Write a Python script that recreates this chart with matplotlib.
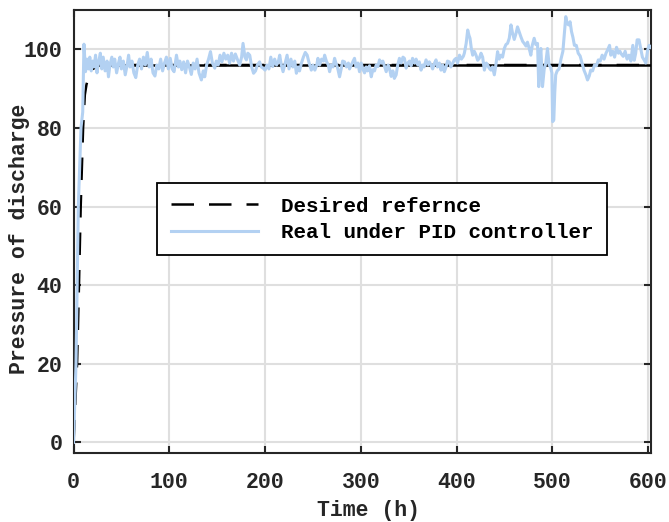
import numpy as np
import matplotlib.pyplot as plt

plt.rcParams['font.family'] = ['Liberation Mono', 'DejaVu Sans Mono']
plt.rcParams['font.weight'] = 'bold'
plt.rcParams['axes.labelweight'] = 'bold'

# desired set-point trajectory (h, pressure)
ref_t = [0, 1.5, 3.7, 5.7, 7.5, 10, 11.8, 13.5, 15.3, 18.7, 23.9, 29, 603]
ref_p = [0, 8, 20, 40, 60, 80, 88.4, 91, 92.6, 94.7, 95.6, 96, 96]

# measured discharge pressure with the PID loop
pid_t = [0, 1, 2.6, 5, 7.8, 9.6, 10.9, 12.5, 14, 15.5, 17, 18.5, 20, 21.5, 23, 24.5,
         26, 28, 29.5, 31, 33, 35, 36.5, 38, 40, 41.5, 43, 45, 47, 48.5, 50, 52,
         54, 56, 57.5, 59, 61, 63, 65, 67, 69, 71, 73, 75, 77, 79, 81, 83,
         85, 87, 89, 91, 93, 95, 97, 99, 101, 103, 105, 107.5, 109.5, 111, 113, 115,
         117, 119, 121, 123, 125, 127, 129, 131, 133.5, 135.5, 137, 139, 141, 143, 145, 147.5,
         149, 151, 153, 155, 157, 159, 161, 163, 165, 167, 169, 171, 173.5, 175.5, 177, 179,
         180.5, 182, 184, 186, 188, 190, 192, 194.3, 196, 198, 200, 202, 204, 206, 208, 210,
         212, 214, 215.3, 217, 218.8, 221, 223, 225, 227, 229, 231, 232.7, 234.5, 236, 238, 240,
         242, 244, 246, 248.3, 250, 252, 254, 255.2, 257, 259, 261, 262.2, 264, 266, 267.4, 269,
         271, 272.6, 274, 276, 277.8, 279.5, 281, 283, 285, 287, 288.2, 290, 292, 293.4, 295, 297,
         298.6, 300.4, 302, 303.9, 305.5, 307, 309, 310.9, 312.5, 314.3, 316, 317.8, 319.5, 321.3, 323, 325,
         326.5, 328.5, 330, 331.7, 333.5, 335, 336.9, 338.5, 340.3, 342, 344, 345.5, 347.3, 349, 350.8, 352.5,
         354, 356, 357.7, 359.5, 361, 362.9, 364.5, 366, 368.1, 370, 371.5, 373.3, 375, 377, 378.5, 380,
         382, 383.7, 385.5, 387.2, 389, 390.5, 392.4, 394, 396, 397.6, 399.4, 401, 403, 405, 407, 408.1,
         410, 411.6, 413, 414, 415.5, 416.8, 418.5, 420.3, 422, 423.7, 425.5, 427.2, 429, 431, 432.4, 434,
         435.9, 437.5, 439.4, 441, 442.8, 444.5, 446.3, 448, 449.8, 451.5, 453.2, 455, 456.8, 458.5, 460.2, 462,
         463.6, 465.3, 467.1, 469, 470.6, 472.5, 474, 475.8, 477.5, 479, 481, 482.7, 484.5, 485.8, 487, 488,
         489.7, 491.5, 493.1, 494.9, 496.6, 498, 499.5, 500.3, 501.5, 502.5, 503.5, 505, 507, 509, 511, 512.5,
         514, 515.5, 517, 518.5, 520, 521.5, 523, 525, 527, 529, 531, 533, 535, 536.7, 538.5, 540,
         542, 544, 546, 548, 550, 552, 554, 556, 558, 559.7, 561, 563, 565, 567, 569, 570.5,
         572, 574, 576, 578, 580, 582, 584, 585.5, 587, 588.5, 590.5, 592, 594, 596, 597.5, 599.5,
         601, 602.5]
pid_p = [0, 8, 20, 60, 80, 84, 101.3, 94.3, 97.5, 95, 98, 94.5, 97, 95.5, 98.5, 94,
         96.5, 99, 95, 98, 94.5, 97, 93, 96, 98, 95.5, 97.5, 94, 96.5, 98, 95, 97,
         93.5, 96, 98.5, 95.5, 97, 94, 92.8, 96, 97.5, 95, 98, 96, 99.2, 95.5, 97.5, 94,
         93.2, 96, 95, 97.5, 94.5, 96.5, 98, 95, 97.7, 95, 94.3, 98.5, 95.5, 97, 94.8, 96.8,
         94, 97, 95.5, 93.6, 96.5, 95, 97.5, 94, 92.2, 94.5, 93, 96, 97.5, 99.4, 96.5, 95.2,
         97, 96, 98.5, 96.8, 99, 97.5, 98.5, 96.5, 99, 97, 98.8, 97.5, 96, 98, 101.5, 98,
         97.3, 99, 98.5, 95.5, 93.9, 94.5, 96, 96.8, 95.5, 95.2, 94.7, 96, 95, 98, 95.6, 97.5,
         96, 97, 98.5, 96, 94.3, 96.5, 98.5, 95, 97.5, 95.5, 97, 93.9, 95.5, 94.5, 96.5, 98,
         99.2, 98.5, 96.5, 94.7, 96, 94.7, 96, 97.7, 96, 97.5, 97, 98.5, 97, 96, 94.3, 96,
         95.5, 97.7, 96.5, 95, 93, 95, 97, 96.8, 95.5, 96.5, 95, 96, 97, 97.7, 95.5, 96.5,
         94.3, 96.5, 95, 94, 95.5, 94.5, 95.8, 93, 94.8, 94.5, 96, 95.6, 97.3, 96.5, 97, 95.5,
         94.3, 96, 95, 93.1, 94.5, 92.6, 93.5, 96, 97.7, 96.5, 98, 97.7, 95.2, 96.5, 97, 95.8,
         97.7, 96.5, 97.5, 96, 96.8, 94.7, 96, 95.5, 97.3, 96, 96.8, 96, 95, 96.5, 97.3, 95.5,
         96.5, 94.7, 96, 94.3, 95.5, 97, 96.8, 95.5, 96.5, 97.3, 97.7, 96.5, 98.5, 97.5, 98.2, 99,
         101.5, 104.9, 103.5, 102.8, 100, 98.5, 99.5, 98.5, 97.2, 97.7, 99, 98, 94.7, 96.5, 96, 95.2,
         94.7, 95.5, 93.5, 96, 99.4, 97.5, 98.5, 98, 100.2, 101.2, 101.5, 102.8, 106.2, 104, 102.5, 104,
         105.7, 104.5, 103.2, 102, 101.5, 100.8, 101.8, 100.2, 98.5, 101, 102.8, 101.2, 101.5, 90.5, 98, 100.2,
         90.5, 95, 96.4, 100.2, 96, 95.5, 94, 81.6, 82, 89, 93.5, 94.5, 95, 97.5, 99.5, 104,
         108.3, 106.5, 106.2, 107, 104.5, 103, 101, 101, 99, 98.3, 96.5, 94.7, 93.5, 92.2, 93.2, 94.7,
         94.5, 96, 95.8, 97.3, 97, 98.5, 97.5, 99, 100, 101, 98.5, 99.5, 98, 100.5, 99, 99.5,
         98.8, 98.2, 99.5, 97.5, 98.5, 97, 101, 97.2, 99, 102.4, 102.4, 100.5, 98, 97.2, 96.5, 99.8,
         101, 100.5]

fig = plt.figure(figsize=(6.69, 5.22), dpi=100)
ax = fig.add_axes([0.1099, 0.1322, 0.8632, 0.8487])

ax.plot(ref_t, ref_p, color='black', lw=1.8, ls=(0, (9, 6)),
        label='Desired refernce', zorder=3)
# steady part of the set-point drawn solid
ax.plot(ref_t[-2:], ref_p[-2:], color='black', lw=1.8, zorder=3)
ax.plot(pid_t, pid_p, color='#b3d1f2', lw=2.2,
        label='Real under PID controller', zorder=4)

ax.set_xlim(0, 603)
ax.set_ylim(-2.7, 110)
ax.set_xticks(range(0, 601, 100))
ax.set_yticks(range(0, 101, 20))
ax.grid(True, color='#dfdfdf', lw=1.5)
ax.set_axisbelow(True)

ax.tick_params(direction='in', length=5, width=1.5, top=True, right=True,
               labelsize=15.5, colors='#262626')
ax.tick_params(axis='x', pad=13.5)
ax.tick_params(axis='y', pad=8)
for s in ax.spines.values():
    s.set_linewidth(1.5)
    s.set_color('#262626')

ax.set_xlabel('Time (h)', fontsize=15.5, color='#262626')
ax.set_ylabel('Pressure of discharge', fontsize=15.5, color='#262626')
ax.xaxis.set_label_coords(0.51, -0.106)
ax.yaxis.set_label_coords(-0.076, 0.483)

leg = ax.legend(loc='upper left', bbox_to_anchor=(0.1446, 0.6095), fontsize=15,
                frameon=True, fancybox=False, edgecolor='black', framealpha=1,
                handlelength=4.2, handletextpad=1.1, borderpad=0.65,
                labelspacing=0.35, borderaxespad=0)
leg.get_frame().set_linewidth(1.3)

fig.savefig('out.png', dpi=100)
